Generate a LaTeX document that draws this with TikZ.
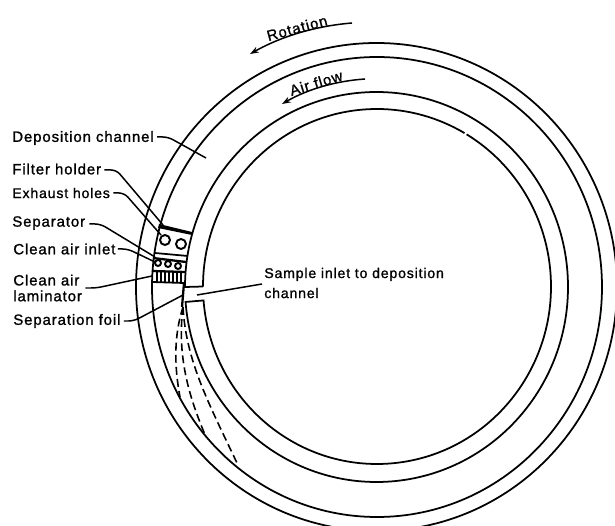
\documentclass[tikz,border=0pt]{standalone}
\usepackage{fontspec}
\setmainfont[LetterSpace=6,FakeBold=1.2]{Liberation Sans}
\usetikzlibrary{arrows.meta}
\tikzset{
  wall/.style={line width=1pt},
  leader/.style={line width=0.85pt,rounded corners=3pt},
  label/.style={font=\fontsize{8.5}{9}\selectfont,inner sep=0pt,anchor=west,align=left},
  narrowlabel/.style={label,font=\fontsize{8}{11.4}\selectfont},
  path/.style={line width=0.9pt,dash pattern=on 4.5pt off 2.4pt},
  flow/.style={line width=0.85pt,-{Stealth[length=5pt,width=3.5pt]}}
}
\begin{document}
\begin{tikzpicture}[x=0.02cm,y=-0.02cm]
\useasboundingbox (0,0) rectangle (615,526);
\clip (0,0) rectangle (615,526);
% rings
\draw [wall] (376.5,287) ellipse [x radius=240.5,y radius=244];
\draw [wall] (377,287) ellipse [x radius=225,y radius=230];
\draw [wall] ([shift={(376.5,287)}]180:191.5 and 195) arc [start angle=180,end angle=535.6,x radius=191.5,y radius=195] -- ([shift={(377,286.5)}]175.5:174 and 177.5)
	arc [start angle=175.5,end angle=-59,x radius=174,y radius=177.5];
\draw [wall] ([shift={(377,286.5)}]180:174 and 177.5) -- ([shift={(376.5,287)}]180:191.5 and 195);
\draw [wall] ([shift={(377,286.5)}]180:174 and 177.5) arc [start angle=180,end angle=300.2,x radius=174,y radius=177.5];
% filter block
\fill (159,224) -- (192,232) -- (192,235) -- (158,228) -- cycle;
\draw [wall] (155,253) -- (188,256);
\draw [line width=1.3pt] (153,258) -- (186,262);
\draw [line width=1.3pt] (152,271) -- (185,272);
\draw [wall] (152,282) -- (184,283);
\foreach \hx in {157,161,...,183}
	\draw [line width=1.1pt] (\hx,272) -- (\hx,282);
\foreach \cx/\cy in {165/240,181/244}
	\draw [line width=1.1pt] (\cx,\cy) circle [radius=5];
\foreach \cx/\cy in {158/263,168/264,178/266}
	\draw [line width=1.1pt] (\cx,\cy) circle [radius=3];
\draw [line width=1.3pt] (184,283) -- (182,307);
% particle paths
\coordinate (foil) at (183,307);
\draw [path] (foil) .. controls (174,335) and (174,365) .. (180,397);
\draw [path] (foil) .. controls (177,355) and (188,395) .. (206,437);
\draw [path] (foil) .. controls (186,360) and (207,400) .. (237,463);
% labels
\node [label] (deposition) at (12,138) {Deposition channel};
\node [label] (filter) at (12,169) {Filter holder};
\node [narrowlabel] (exhaust) at (12,193) {Exhaust holes};
\node [label] (separator) at (12,223) {Separator};
\node [label] (inlet) at (13,249) {Clean air inlet};
\node [label] (laminator) at (13,288) {Clean air\\laminator};
\node [label] (sepfoil) at (13,321) {Separation foil};
\node [narrowlabel] (sample) at (264,283) {Sample inlet to deposition\\channel};
\node [label,anchor=center,rotate=15] (rotation) at (297,28) {Rotation};
\node [label,anchor=center,rotate=17] (airflow) at (316,83) {Air flow};
% leaders
\coordinate (depositionend) at (206,158);
\coordinate (filterend) at (163,225);
\coordinate (exhaustend) at (161,235);
\coordinate (separatorend) at (155,257);
\coordinate (inletend) at (155,262);
\coordinate (laminatorend) at (152,276);
\coordinate (sepfoilend) at (183,295);
\coordinate (sampleend) at (197,295);
\draw [leader] (deposition.east) ++(3,-1) -- ++(11,0) -- (depositionend);
\draw [leader] (filter.east) ++(3,1) -- ++(12,0) -- (filterend);
\draw [leader] (exhaust.east) ++(3,0) -- ++(11,0) -- (exhaustend);
\draw [leader] (separator.east) ++(4,1) -- ++(11,0) -- (separatorend);
\draw [leader] (inlet.east) ++(2,0) -- ++(10,0) -- (inletend);
\draw [leader] (laminator.east) ++(3,0) -- ++(11,0) -- (laminatorend);
\draw [leader] (sepfoil.east) ++(3,0) -- ++(10,0) -- (sepfoilend);
\draw [leader] (sample.west) ++(-2,1) -- (sampleend);
% arrows
\coordinate (rotationa) at (352,23);
\coordinate (rotationb) at (250,54);
\coordinate (airflowa) at (365,79);
\coordinate (airflowb) at (282,104);
\draw [flow] (rotationa) .. controls (316,26) and (282,36) .. (rotationb);
\draw [flow] (airflowa) .. controls (336,81) and (308,89) .. (airflowb);
\end{tikzpicture}
\end{document}
